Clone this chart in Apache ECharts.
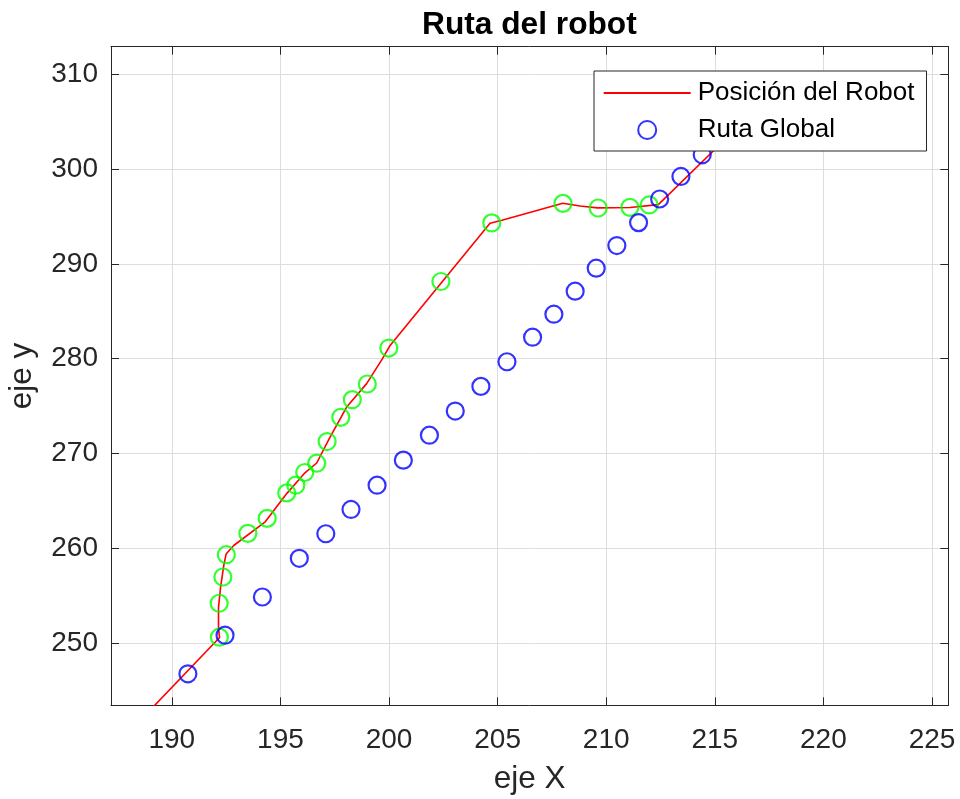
<!DOCTYPE html>
<html>
<head>
<meta charset="utf-8">
<title>Ruta del robot</title>
<script src="https://cdn.jsdelivr.net/npm/echarts@6/dist/echarts.min.js"></script>
<style>
  html, body { margin: 0; padding: 0; background: #fff; }
  #chart { width: 960px; height: 799px; }
</style>
</head>
<body>
<div id="chart"></div>
<script>
// Trayectoria real del robot (x, y)
const robotX = [188.9, 192.2, 192.15, 192.15, 192.25, 192.4, 192.5, 192.85, 194.3, 194.6, 195.3, 196.1, 196.67, 197.28, 198.05, 198.97, 199.7, 200.05, 204.65, 205.2, 208.0, 208.8, 209.6, 211.1, 212.4, 216.0];
const robotY = [242.7, 250.6, 251.5, 253.8, 256.0, 258.3, 259.4, 260.3, 262.8, 263.7, 265.8, 267.9, 269.0, 271.7, 274.9, 277.37, 280.0, 281.4, 294.28, 294.6, 296.4, 296.1, 295.9, 295.95, 296.25, 304.3];

// Puntos de la ruta global
const globalX = [190.74, 192.45, 194.17, 195.87, 197.09, 198.25, 199.45, 200.66, 201.86, 203.05, 204.23, 205.43, 206.61, 207.59, 208.57, 209.54, 210.49, 211.49, 212.46, 213.44, 214.42];
const globalY = [246.77, 250.84, 254.87, 258.95, 261.54, 264.10, 266.66, 269.30, 271.93, 274.48, 277.08, 279.68, 282.27, 284.69, 287.12, 289.54, 291.93, 294.35, 296.84, 299.22, 301.50];

// Posiciones registradas del robot
const posX = [192.19, 192.18, 192.35, 192.51, 193.5, 194.39, 195.29, 195.71, 196.12, 196.67, 197.15, 197.78, 198.31, 199.0, 199.99, 202.39, 204.73, 208.01, 209.63, 211.09, 211.98];
const posY = [250.63, 254.21, 256.98, 259.33, 261.58, 263.16, 265.85, 266.66, 268.0, 268.98, 271.26, 273.82, 275.68, 277.33, 281.12, 288.14, 294.32, 296.38, 295.89, 295.96, 296.21];

// Límites de los ejes
const xLimits = [187.2, 225.75];
const yLimits = [243.45, 312.9];

const zip = (xs, ys) => xs.map((x, i) => [x, ys[i]]);

const FONT = 'Liberation Sans, Arial, sans-serif';
const AXIS_COLOR = '#262626';
const GRID_COLOR = '#dedede';

const tickStyle = { show: true, inside: true, length: 8, lineStyle: { color: AXIS_COLOR, width: 1 } };
const lineStyleAxis = { show: true, onZero: false, lineStyle: { color: AXIS_COLOR, width: 1 } };

const chart = echarts.init(document.getElementById('chart'), null, { renderer: 'canvas' });

chart.setOption({
  animation: false,
  backgroundColor: '#fff',
  title: {
    text: 'Ruta del robot',
    left: 422,
    top: 9,
    padding: 0,
    textStyle: { fontFamily: FONT, fontSize: 31.7, fontWeight: 'bold', color: '#000' }
  },
  grid: { left: 111, right: 11.7, top: 46.7, bottom: 93.7, containLabel: false, outerBoundsMode: 'none' },
  legend: {
    data: [
      { name: 'Posición del Robot', itemStyle: { opacity: 0 } },
      { name: 'Ruta Global' }
    ],
    orient: 'vertical',
    left: 594,
    top: 71,
    z: 20,
    itemWidth: 87,
    itemHeight: 18,
    itemGap: 9,
    padding: [8, 12, 7, 8.7],
    backgroundColor: '#fff',
    borderColor: AXIS_COLOR,
    borderWidth: 1,
    borderRadius: 0,
    selectedMode: false,
    textStyle: { fontFamily: FONT, fontSize: 26, color: '#000', lineHeight: 28, padding: [0, 0, 0, 2] }
  },
  xAxis: [
    {
      type: 'value', position: 'bottom',
      min: xLimits[0], max: xLimits[1], splitNumber: 8,
      name: 'eje X', nameLocation: 'middle', nameGap: 58,
      nameTextStyle: { fontFamily: FONT, fontSize: 31.5, color: AXIS_COLOR },
      axisLine: lineStyleAxis,
      axisTick: tickStyle,
      axisLabel: { fontFamily: FONT, fontSize: 28, color: AXIS_COLOR, margin: 21, showMinLabel: false, showMaxLabel: false },
      splitLine: { show: true, lineStyle: { color: GRID_COLOR, width: 1 } }
    },
    {
      type: 'value', position: 'top',
      min: xLimits[0], max: xLimits[1], splitNumber: 8,
      axisLine: lineStyleAxis,
      axisTick: tickStyle,
      axisLabel: { show: false },
      splitLine: { show: false }
    }
  ],
  yAxis: [
    {
      type: 'value', position: 'left',
      min: yLimits[0], max: yLimits[1], splitNumber: 7,
      name: 'eje y', nameLocation: 'middle', nameGap: 73, nameRotate: 90,
      nameTextStyle: { fontFamily: FONT, fontSize: 31.5, color: AXIS_COLOR },
      axisLine: lineStyleAxis,
      axisTick: tickStyle,
      axisLabel: { fontFamily: FONT, fontSize: 28, color: AXIS_COLOR, margin: 13, showMinLabel: false, showMaxLabel: false },
      splitLine: { show: true, lineStyle: { color: GRID_COLOR, width: 1 } }
    },
    {
      type: 'value', position: 'right',
      min: yLimits[0], max: yLimits[1], splitNumber: 7,
      axisLine: lineStyleAxis,
      axisTick: tickStyle,
      axisLabel: { show: false },
      splitLine: { show: false }
    }
  ],
  series: [
    {
      name: 'Posiciones',
      type: 'scatter',
      xAxisIndex: 0, yAxisIndex: 0,
      data: zip(posX, posY),
      symbol: 'circle',
      symbolSize: 17,
      itemStyle: { color: 'rgba(0,0,0,0)', borderColor: '#00ff00', borderWidth: 2.2 },
      silent: true,
      z: 2
    },
    {
      name: 'Ruta Global',
      type: 'scatter',
      xAxisIndex: 0, yAxisIndex: 0,
      data: zip(globalX, globalY),
      symbol: 'circle',
      symbolSize: 17,
      itemStyle: { color: 'rgba(0,0,0,0)', borderColor: '#0000ff', borderWidth: 2.2 },
      silent: true,
      z: 2
    },
    {
      name: 'Posición del Robot',
      type: 'line',
      xAxisIndex: 0, yAxisIndex: 0,
      data: zip(robotX, robotY),
      symbol: 'none',
      clip: true,
      lineStyle: { color: '#ff0000', width: 1.6 },
      itemStyle: { color: '#ff0000' },
      silent: true,
      z: 2
    }
  ]
});
</script>
</body>
</html>
